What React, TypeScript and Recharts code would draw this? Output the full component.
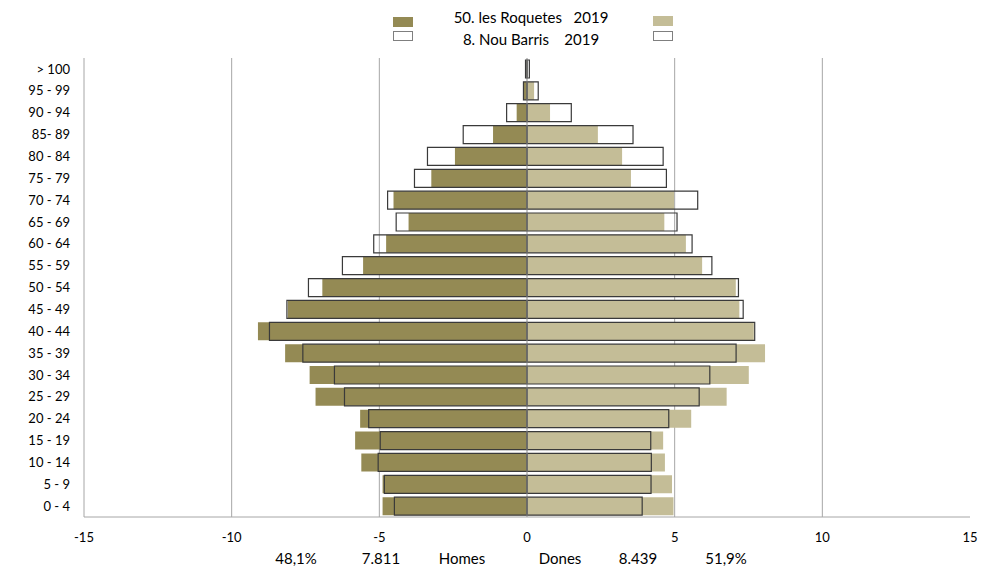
import React from "react";
import {
  BarChart,
  Bar,
  XAxis,
  YAxis,
  CartesianGrid,
  ReferenceLine,
} from "recharts";

// age groups, top to bottom
const ages = [
  "> 100", "95 - 99", "90 - 94", "85- 89", "80 - 84", "75 - 79", "70 - 74",
  "65 - 69", "60 - 64", "55 - 59", "50 - 54", "45 - 49", "40 - 44", "35 - 39",
  "30 - 34", "25 - 29", "20 - 24", "15 - 19", "10 - 14", "5 - 9", "0 - 4",
];

// % per sex, les Roquetes 2019 (filled bars)
const homesRoquetes = [0.02, 0.12, 0.35, 1.15, 2.44, 3.24, 4.52, 4.01, 4.77, 5.55, 6.93, 8.1, 9.11, 8.19, 7.36, 7.16, 5.65, 5.82, 5.61, 4.89, 4.89];
const donesRoquetes = [0.03, 0.24, 0.78, 2.4, 3.22, 3.52, 4.98, 4.65, 5.38, 5.93, 7.07, 7.19, 7.68, 8.06, 7.51, 6.76, 5.56, 4.61, 4.67, 4.91, 4.96];

// % per sex, Nou Barris 2019 (outline bars)
const homesNouBarris = [0.05, 0.12, 0.69, 2.16, 3.37, 3.81, 4.72, 4.43, 5.19, 6.25, 7.4, 8.13, 8.72, 7.59, 6.52, 6.18, 5.36, 4.97, 5.04, 4.83, 4.49];
const donesNouBarris = [0.08, 0.38, 1.5, 3.59, 4.61, 4.72, 5.78, 5.08, 5.59, 6.26, 7.16, 7.32, 7.71, 7.08, 6.19, 5.83, 4.8, 4.19, 4.21, 4.2, 3.9];

const xTicks = [-15, -10, -5, 0, 5, 10, 15];
const footer = [
  { text: "48,1%", x: 296 },
  { text: "7.811", x: 381 },
  { text: "Homes", x: 462 },
  { text: "Dones", x: 560 },
  { text: "8.439", x: 638 },
  { text: "51,9%", x: 726 },
];

const data = ages.map((age, i) => ({
  age,
  hR: -homesRoquetes[i],
  dR: donesRoquetes[i],
  hN: -homesNouBarris[i],
  dN: donesNouBarris[i],
}));

const DARK = "#948A54";
const LIGHT = "#C4BD97";
const FONT = "Lato, 'Open Sans', sans-serif";

function Swatch({ x, y, color, outline }: { x: number; y: number; color: string; outline?: boolean }) {
  return (
    <div
      style={{
        position: "absolute",
        left: x,
        top: y,
        width: 20,
        height: 10,
        boxSizing: "border-box",
        background: color,
        border: outline ? "1px solid #7f7f7f" : "none",
      }}
    />
  );
}

export default function App() {
  return (
    <div style={{ position: "absolute", left: 0, top: 0, width: 983, height: 568, background: "#fff", fontFamily: FONT }}>
      <BarChart
        width={983}
        height={568}
        data={data}
        layout="vertical"
        stackOffset="sign"
        margin={{ top: 58, right: 13, bottom: 21, left: 0 }}
      >
        <CartesianGrid
          yAxisId="r"
          horizontal={false}
          verticalValues={[-10, -5, 5, 10]}
          stroke="#a6a6a6"
        />
        <XAxis
          type="number"
          domain={[-15, 15]}
          ticks={xTicks}
          interval={0}
          height={30}
          axisLine={{ stroke: "#a6a6a6" }}
          tickLine={false}
          tickSize={0}
          tickMargin={16}
          tick={{ fill: "#000", fontSize: 13, fontFamily: FONT }}
        />
        <YAxis
          yAxisId="r"
          type="category"
          dataKey="age"
          width={84}
          interval={0}
          axisLine={{ stroke: "#a6a6a6" }}
          tickLine={false}
          tickSize={0}
          tickMargin={14}
          tick={{ fill: "#000", fontSize: 13, fontFamily: FONT }}
        />
        <YAxis yAxisId="n" type="category" dataKey="age" width={0} hide />
        <Bar dataKey="hR" stackId="r" yAxisId="r" fill={DARK} barSize={18} isAnimationActive={false} />
        <Bar dataKey="dR" stackId="r" yAxisId="r" fill={LIGHT} barSize={18} isAnimationActive={false} />
        <Bar dataKey="hN" stackId="n" yAxisId="n" fill="none" stroke="#3a3a3a" strokeWidth={1.2} barSize={18} isAnimationActive={false} />
        <Bar dataKey="dN" stackId="n" yAxisId="n" fill="none" stroke="#3a3a3a" strokeWidth={1.2} barSize={18} isAnimationActive={false} />
        <ReferenceLine x={0} yAxisId="r" stroke="#8c8c8c" strokeWidth={1} />
      </BarChart>

      {/* legend */}
      <Swatch x={393} y={17} color={DARK} />
      <Swatch x={653} y={16} color={LIGHT} />
      <Swatch x={393} y={31} color="#fff" outline />
      <Swatch x={653} y={31} color="#fff" outline />
      <div style={{ position: "absolute", left: 431, width: 200, top: 8, textAlign: "center", fontSize: 15, whiteSpace: "pre" }}>
        {"50. les Roquetes   2019"}
      </div>
      <div style={{ position: "absolute", left: 431, width: 200, top: 30, textAlign: "center", fontSize: 15, whiteSpace: "pre" }}>
        {"8. Nou Barris    2019"}
      </div>

      {/* totals under the axis */}
      {footer.map((f) => (
        <div
          key={f.text}
          style={{ position: "absolute", left: f.x - 40, width: 80, top: 549, textAlign: "center", fontSize: 15 }}
        >
          {f.text}
        </div>
      ))}
    </div>
  );
}
